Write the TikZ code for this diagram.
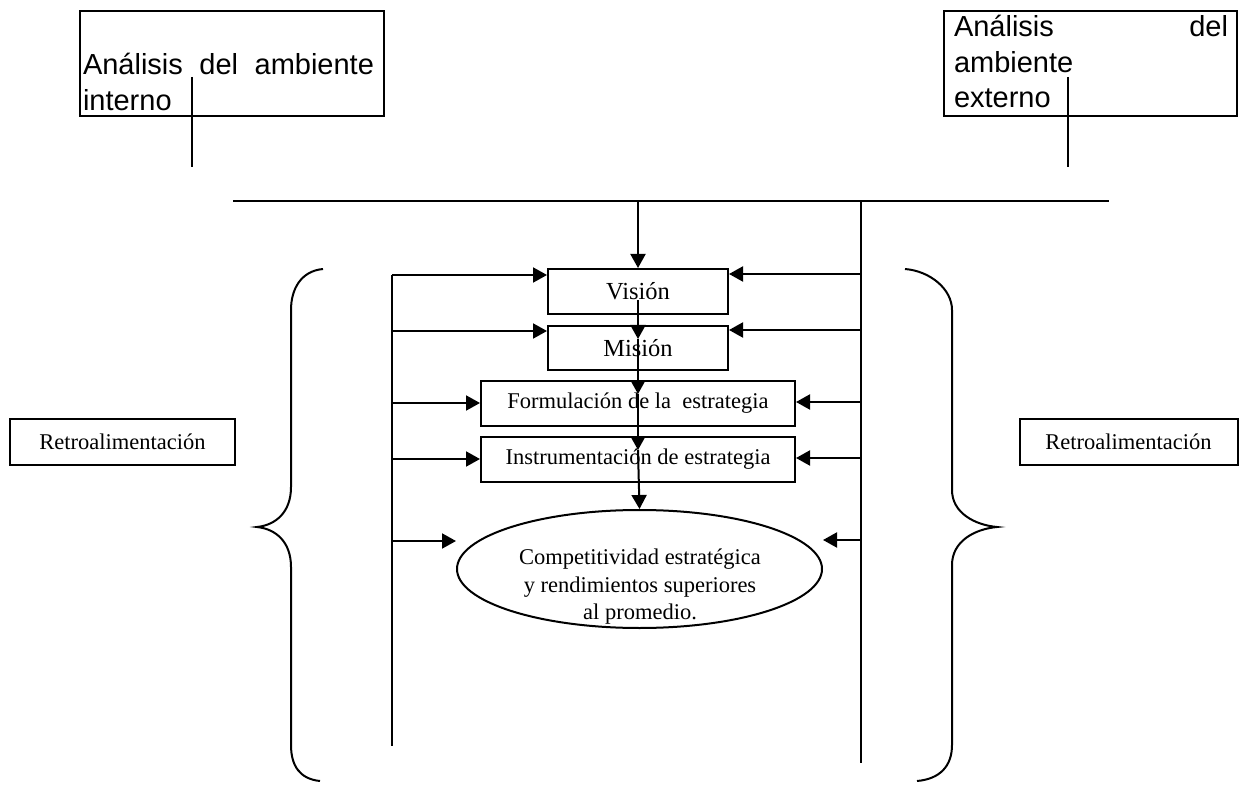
\documentclass[tikz,border=0pt]{standalone}
\usepackage{fontspec}
\setmainfont{Liberation Serif}
\newfontfamily\arialf{Liberation Sans}
\usetikzlibrary{arrows.meta,shapes.geometric}

\begin{document}
\begin{tikzpicture}[x=1pt,y=-1pt,
  line width=2pt,
  arr/.style={-{Triangle[length=14pt,width=15pt]}},
  serif/.style={font=\fontsize{22.5}{27.5}\selectfont},
  sans/.style={font=\arialf\fontsize{29}{35.5}\selectfont},
  frame/.style={draw, rectangle, inner sep=0pt},
  stepbox/.style={frame, serif},
]
\useasboundingbox (0,0) rectangle (1239,791);

% top analysis boxes
\node[frame, minimum width=304pt, minimum height=105pt] (intbox) at (232,63.5) {};
\node[sans, anchor=base west, inner sep=0pt, text width=291pt] (inttext) at (82,75)
  {Análisis\hfill del\hfill ambiente\\interno};
\node[frame, minimum width=293pt, minimum height=105pt] (extbox) at (1090.5,63.5) {};
\node[sans, anchor=base west, inner sep=0pt, text width=274pt] (exttext) at (953,37)
  {Análisis\hfill del\\ambiente\\externo};

\coordinate (intA) at (192,77);
\coordinate (intB) at (192,167);
\coordinate (extA) at (1068,77);
\coordinate (extB) at (1068,167);
\draw (intA) -- (intB);
\draw (extA) -- (extB);

% distribution bar
\coordinate (barL) at (233,201);
\coordinate (barR) at (1109,201);
\coordinate (barC) at (638,201);
\draw (barL) -- (barR);

% process steps
\node[stepbox, font=\fontsize{24.5}{28}\selectfont, minimum width=180pt, minimum height=45pt] (vision) at (638,291.5) {Visión};
\node[stepbox, font=\fontsize{24.5}{28}\selectfont, minimum width=180pt, minimum height=44pt] (mision) at (638,348) {Misión};
\node[stepbox, minimum width=314pt, minimum height=45pt] (form) at (638,403.5) {Formulación de la\ \ estrategia};
\node[stepbox, minimum width=314pt, minimum height=45pt] (instr) at (638,459.5) {Instrumentación de estrategia};
\node[draw, ellipse, minimum width=365pt, minimum height=118pt, inner sep=0pt] (ell) at (639.5,569) {};
\node[serif, align=center, inner sep=0pt] (elltext) at (640,587)
  {Competitividad estratégica\\y rendimientos superiores\\al promedio.};

% main flow
\draw[arr] (barC) -- (vision.north);
\draw[arr] ([yshift=-9pt]vision.center) -- ([yshift=-14pt]mision.north);
\draw[arr] ([yshift=-14pt]mision.north) -- ([yshift=-14pt]form.north);
\draw[arr] ([yshift=-14pt]form.north) -- ([yshift=-14pt]instr.north);
\draw[arr] ([yshift=-14pt]instr.north) -- (ell.north);

% left feedback rail
\coordinate (L1) at (392,275);
\coordinate (L2) at (392,331);
\coordinate (L3) at (392,403);
\coordinate (L4) at (392,459);
\coordinate (L5) at (392,541);
\coordinate (Lbot) at (392,746);
\draw (L1) -- (Lbot);
\draw[arr] (L1) -- (L1 -| vision.west);
\draw[arr] (L2) -- (L2 -| mision.west);
\draw[arr] (L3) -- (L3 -| form.west);
\draw[arr] (L4) -- (L4 -| instr.west);
\draw[arr] (L5) -- (L5 -| ell.west);

% right feedback rail
\coordinate (Rtop) at (861,201);
\coordinate (R1) at (861,274);
\coordinate (R2) at (861,330);
\coordinate (R3) at (861,402);
\coordinate (R4) at (861,458);
\coordinate (R5) at (861,540);
\coordinate (Rbot) at (861,763);
\draw (Rtop) -- (Rbot);
\draw[arr] (R1) -- (R1 -| vision.east);
\draw[arr] (R2) -- (R2 -| mision.east);
\draw[arr] (R3) -- (R3 -| form.east);
\draw[arr] (R4) -- (R4 -| instr.east);
\draw[arr] (R5) -- (R5 -| ell.east);

% braces
\draw (323,269) .. controls (301,271) and (291,289) .. (291,310) -- (291,487)
  .. controls (291,512) and (276,525) .. (257,527)
  .. controls (276,529) and (291,542) .. (291,567) -- (291,745)
  .. controls (291,766) and (300,779) .. (320,781);
\draw (905,269) .. controls (930,271) and (952,289) .. (952,310) -- (952,490)
  .. controls (952,513) and (975,525) .. (997,527)
  .. controls (975,529) and (952,541) .. (952,565) -- (952,745)
  .. controls (952,766) and (940,779) .. (917,781);

% feedback labels
\node[stepbox, minimum width=225pt, minimum height=46pt] (retroL) at (122.5,442) {Retroalimentación};
\node[stepbox, minimum width=218pt, minimum height=46pt] (retroR) at (1128.5,442) {Retroalimentación};
\end{tikzpicture}
\end{document}
